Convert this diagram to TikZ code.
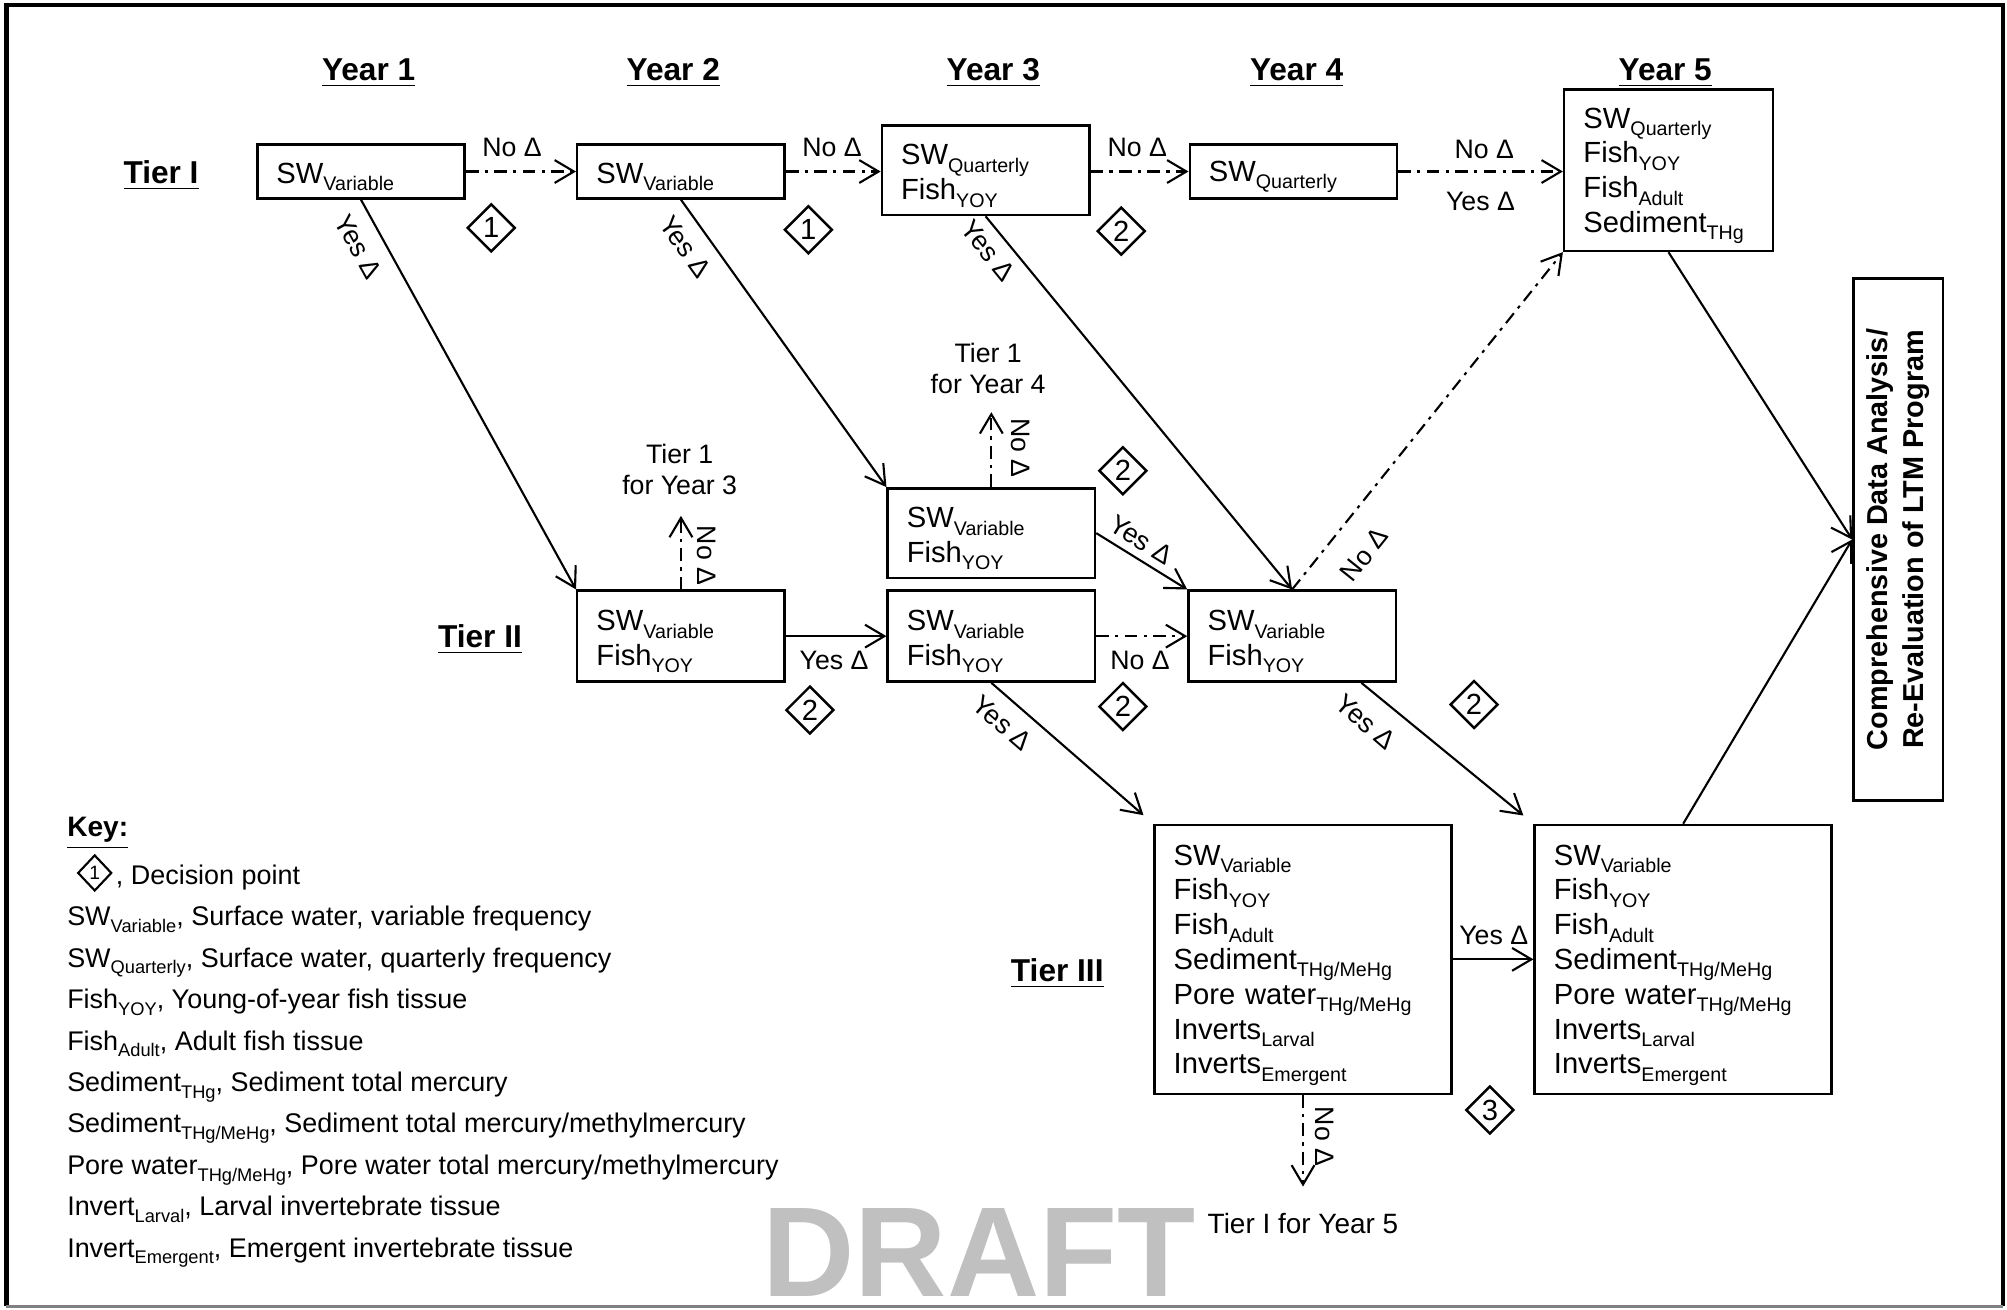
\documentclass[tikz,border=0pt]{standalone}
\usepackage{fontspec}
\setmainfont{Liberation Sans}
\usetikzlibrary{arrows.meta,shapes.geometric,calc}
\definecolor{draftgray}{RGB}{192,192,192}
\newcommand\sbs[1]{\raisebox{-2.1pt}{\fontsize{5.6}{6}\selectfont #1}}
\newcommand\ksb[1]{\raisebox{-1.9pt}{\fontsize{5.2}{6}\selectfont #1}}
\newcommand\tstrut{\rule{0pt}{9pt}}
\begin{document}
\begin{tikzpicture}[x=0.0128cm,y=-0.0128cm,
 box/.style={draw,line width=0.7pt,align=left,inner xsep=0.192cm,inner ysep=0pt,text width=1.69cm,minimum width=2.074cm,font=\fontsize{8.3}{9.9}\selectfont},
 bigbox/.style={box,text width=2.586cm,minimum width=2.97cm,minimum height=2.688cm},
 dp/.style={draw,diamond,line width=0.7pt,inner sep=0pt,minimum width=0.48cm,minimum height=0.48cm,font=\fontsize{8.3}{9}\selectfont},
 hdr/.style={inner sep=0pt,anchor=base,font=\bfseries\fontsize{9}{10}\selectfont},
 lbl/.style={inner sep=0pt,font=\fontsize{7.6}{8.9}\selectfont},
 keyt/.style={inner sep=0pt,anchor=base west,font=\fontsize{7.67}{9}\selectfont},
 arr/.style={line width=0.6pt,-{Straight Barb[length=5.5pt,width=6.5pt]}},
 dd/.style={arr,dash pattern=on 3.6pt off 1.8pt on 0.9pt off 1.8pt},
]
\useasboundingbox (0,0) rectangle (1568,1023);
% frame
\draw[line width=1.2pt] (5,1020.7) -- (5,4.2) -- (1565,4.2) -- (1565,1020.7);
\draw[gray,line width=0.6pt] (5,1020.7) -- (1565,1020.7);

% DRAFT watermark
\node[inner sep=0pt,anchor=base west,text=draftgray,font=\bfseries\fontsize{36.4}{40}\selectfont] (draft) at (595,1013) {DRAFT};

% headers
\node[hdr] (yr1) at (288,62.5) {\underline{Year 1}};
\node[hdr] (yr2) at (526,62.5) {\underline{Year 2}};
\node[hdr] (yr3) at (776,62.5) {\underline{Year 3}};
\node[hdr] (yr4) at (1013,62.5) {\underline{Year 4}};
\node[hdr] (yr5) at (1301,62.5) {\underline{Year 5}};
\node[hdr] (tier1) at (125.8,143) {\underline{Tier I}};
\node[hdr] (tier2) at (375,505.5) {\underline{Tier II}};
\node[hdr] (tier3) at (826,766.5) {\underline{Tier III}};

% Tier I boxes
\node[box,minimum height=0.538cm] (A1) at (282,134) {\tstrut SW\sbs{Variable}};
\node[box,minimum height=0.538cm] (A2) at (532,134) {\tstrut SW\sbs{Variable}};
\node[box,minimum height=0.896cm] (A3) at (770,133) {\tstrut SW\sbs{Quarterly}\\Fish\sbs{YOY}};
\node[box,minimum height=0.538cm] (A4) at (1010.5,134) {\tstrut SW\sbs{Quarterly}};
\node[box,text width=1.70cm,minimum width=2.086cm,minimum height=1.613cm] (A5) at (1303.5,133) {\tstrut SW\sbs{Quarterly}\\Fish\sbs{YOY}\\Fish\sbs{Adult}\\Sediment\sbs{THg}};

% Tier II boxes
\node[box,minimum height=0.909cm] (B1) at (532,497) {\tstrut SW\sbs{Variable}\\Fish\sbs{YOY}};
\node[box,minimum height=0.896cm] (B2) at (774.5,416.5) {\tstrut SW\sbs{Variable}\\Fish\sbs{YOY}};
\node[box,minimum height=0.909cm] (B3) at (774.5,497) {\tstrut SW\sbs{Variable}\\Fish\sbs{YOY}};
\node[box,minimum height=0.909cm] (B4) at (1009.5,497) {\tstrut SW\sbs{Variable}\\Fish\sbs{YOY}};

% Tier III boxes
\node[bigbox] (C1) at (1018,749.5) {\tstrut SW\sbs{Variable}\\Fish\sbs{YOY}\\Fish\sbs{Adult}\\Sediment\sbs{THg/MeHg}\\Pore water\sbs{THg/MeHg}\\Inverts\sbs{Larval}\\Inverts\sbs{Emergent}};
\node[bigbox] (C2) at (1315,749.5) {\tstrut SW\sbs{Variable}\\Fish\sbs{YOY}\\Fish\sbs{Adult}\\Sediment\sbs{THg/MeHg}\\Pore water\sbs{THg/MeHg}\\Inverts\sbs{Larval}\\Inverts\sbs{Emergent}};

% final box
\node[draw,line width=0.7pt,minimum width=0.896cm,minimum height=5.222cm,inner sep=0pt] (R) at (1483,421.5) {};
\node[rotate=90,align=center,inner sep=0pt,font=\bfseries\fontsize{8.2}{10.2}\selectfont] (Rt) at (R.center) {Comprehensive Data Analysis/\\Re-Evaluation of LTM Program};

% free ends
\coordinate (t3) at (532,403);
\coordinate (t4) at (774.5,322);
\coordinate (t5) at (1018,927);

% Tier I horizontal
\draw[dd] (A1.east) -- (A2.west);
\draw[dd] (A2.east) -- (A3.west |- A2.east);
\draw[dd] (A3.east |- A4.west) -- (A4.west);
\draw[dd] (A4.east) -- (A5.west |- A4.east);

% diagonals
\draw[arr] (A1.south) -- (B1.north west);
\draw[arr] (A2.south) -- (B2.north west);
\draw[arr] (A3.south) -- (B4.north);
\draw[dd] (B1.north) -- (t3);
\draw[dd] (B2.north) -- (t4);
\draw[arr] (B1.east) -- (B3.west);
\draw[dd] (B3.east) -- (B4.west);
\draw[arr] (B2.east) -- (B4.north west);
\draw[dd] (B4.north) -- (A5.south west);
\draw[arr,shorten >=3.7pt] (B3.south) -- (C1.north west);
\draw[arr,shorten >=3.7pt] ($(B4.south west)!0.83!(B4.south east)$) -- (C2.north west);
\draw[arr] (C1.east) -- (C2.west);
\draw[dd] (C1.south) -- (t5);
\draw[arr] (A5.south) -- (R.west);
\draw[arr] (C2.north) -- (R.west);

% labels
\node[lbl] (l1) at (400,115) {No Δ};
\node[lbl] (l2) at (650,115) {No Δ};
\node[lbl] (l3) at (888.6,115) {No Δ};
\node[lbl] (l4) at (1159.6,116.4) {No Δ};
\node[lbl] (l5) at (1156.6,157.6) {Yes Δ};
\node[lbl] (l6) at (651.6,516.3) {Yes Δ};
\node[lbl] (l7) at (890.6,516.3) {No Δ};
\node[lbl] (l8) at (1167,730.5) {Yes Δ};
\node[lbl,rotate=-61] (l9) at (280,193) {Yes Δ};
\node[lbl,rotate=-54.4] (l10) at (535.5,193) {Yes Δ};
\node[lbl,rotate=-50.8] (l11) at (772,196) {Yes Δ};
\node[lbl,rotate=-31.6] (l12) at (891.5,422) {Yes Δ};
\node[lbl,rotate=-40.9] (l13) at (783,565) {Yes Δ};
\node[lbl,rotate=-40.7] (l14) at (1067,564) {Yes Δ};
\node[lbl,rotate=51.3] (l15) at (1066,433) {No Δ};
\node[lbl,rotate=-90] (l16) at (552,434) {No Δ};
\node[lbl,rotate=-90] (l17) at (797,350) {No Δ};
\node[lbl,rotate=-90] (l18) at (1035,888) {No Δ};
\node[lbl,align=center] (l19) at (531,367) {Tier 1\\for Year 3};
\node[lbl,align=center] (l20) at (772,288) {Tier 1\\for Year 4};
\node[lbl,anchor=west,font=\fontsize{7.95}{9}\selectfont] (l21) at (943,956) {Tier I for Year 5};

% decision points
\node[dp] (d1) at (383.8,178) {1};
\node[dp] (d2) at (631.5,179.5) {1};
\node[dp] (d3) at (876,180.5) {2};
\node[dp] (d4) at (877.3,367.8) {2};
\node[dp] (d5) at (632.8,554.7) {2};
\node[dp] (d6) at (877.3,552) {2};
\node[dp] (d7) at (1151.6,550.4) {2};
\node[dp] (d8) at (1164,867.2) {3};

% key
\node[inner sep=0pt,anchor=base west,font=\bfseries\fontsize{8}{9}\selectfont] (key) at (52,653.7) {\underline{Key:}};
\node[draw,diamond,line width=0.6pt,inner sep=0pt,minimum width=0.34cm,minimum height=0.36cm,font=\fontsize{5.5}{6}\selectfont] (kd) at (74,682) {1};
\node[keyt] (k1) at (90,691) {, Decision point};
\node[keyt] (k2) at (52,723.4) {SW\ksb{Variable}, Surface water, variable frequency};
\node[keyt] (k3) at (52,755.7) {SW\ksb{Quarterly}, Surface water, quarterly frequency};
\node[keyt] (k4) at (52,788.1) {Fish\ksb{YOY}, Young-of-year fish tissue};
\node[keyt] (k5) at (52,820.4) {Fish\ksb{Adult}, Adult fish tissue};
\node[keyt] (k6) at (52,852.8) {Sediment\ksb{THg}, Sediment total mercury};
\node[keyt] (k7) at (52,885.1) {Sediment\ksb{THg/MeHg}, Sediment total mercury/methylmercury};
\node[keyt] (k8) at (52,917.5) {Pore water\ksb{THg/MeHg}, Pore water total mercury/methylmercury};
\node[keyt] (k9) at (52,949.8) {Invert\ksb{Larval}, Larval invertebrate tissue};
\node[keyt] (k10) at (52,982.2) {Invert\ksb{Emergent}, Emergent invertebrate tissue};
\end{tikzpicture}
\end{document}
